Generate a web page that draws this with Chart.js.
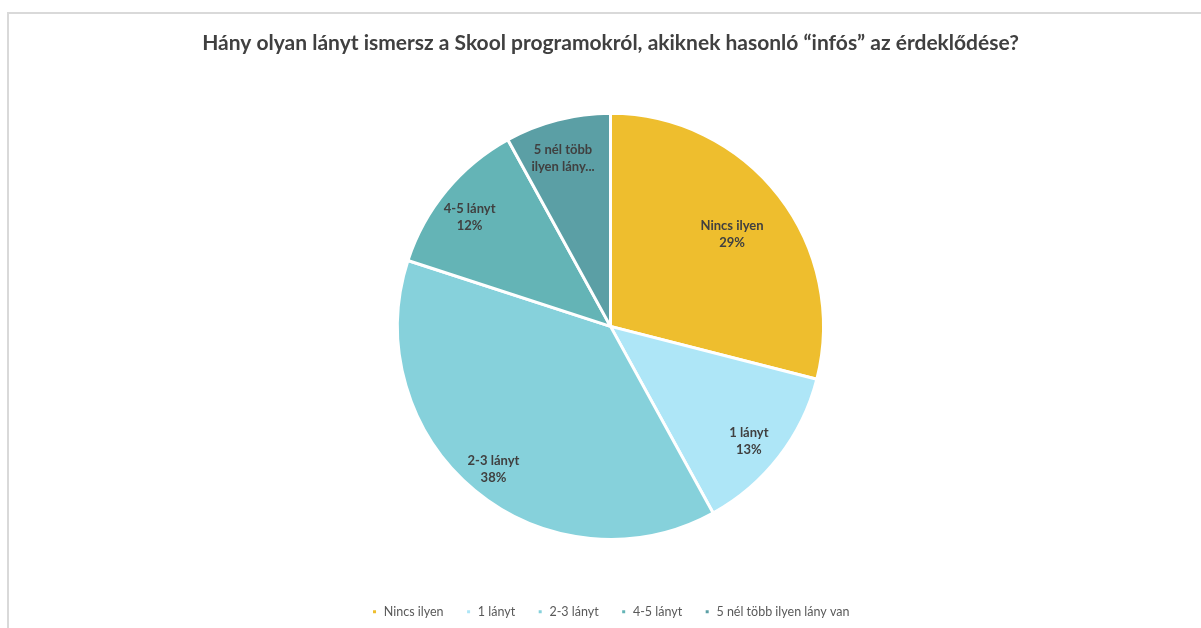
<!DOCTYPE html>
<html>
<head>
<meta charset="utf-8">
<script src="https://cdn.jsdelivr.net/npm/chart.js@4"></script>
<style>
  html, body { margin: 0; padding: 0; background: #fff; overflow: hidden; }
  .frame { position: absolute; left: 7px; top: 12px; width: 1400px; height: 800px; border-left: 2px solid #d9d9d9; border-top: 2px solid #d9d9d9; }
  .wrap { position: absolute; left: 0; top: 0; width: 1201px; height: 628px; }
</style>
</head>
<body>
<div class="frame"></div>
<div class="wrap"><canvas id="pie" width="1201" height="628"></canvas></div>
<script>
    // kategóriák és értékek (%)
    const categories = ['Nincs ilyen', '1 lányt', '2-3 lányt', '4-5 lányt', '5 nél több ilyen lány van'];
    const values = [29, 13, 38, 12, 8];
    const sliceColors = ['#EEBE2E', '#AEE6F7', '#86D1DB', '#64B4B6', '#5B9FA5'];
    // a címkéken megjelenő rövidített nevek
    const labelTexts = [['Nincs ilyen'], ['1 lányt'], ['2-3 lányt'], ['4-5 lányt'], ['5 nél több', 'ilyen lány...']];

    const fontFamily = 'Lato, "Open Sans", sans-serif';

    // adatcímkék a szeletek belsejében
    const sliceLabels = {
        id: 'sliceLabels',
        afterDatasetsDraw(chart) {
            const ctx = chart.ctx;
            const meta = chart.getDatasetMeta(0);
            ctx.save();
            ctx.fillStyle = '#404040';
            ctx.font = 'bold 13px ' + fontFamily;
            ctx.textAlign = 'center';
            ctx.textBaseline = 'middle';
            meta.data.forEach((arc, i) => {
                const p = arc.getProps(['startAngle', 'endAngle', 'outerRadius', 'x', 'y'], true);
                const mid = (p.startAngle + p.endAngle) / 2;
                const r = p.outerRadius * (i === 0 ? 0.74 : 0.84);
                const cx = p.x + Math.cos(mid) * r - 3;
                const cy = p.y + Math.sin(mid) * r + 5;
                let lines = labelTexts[i].slice();
                if (lines.length === 1) lines.push(values[i] + '%');
                const lh = 17;
                lines.forEach((t, k) => {
                    ctx.fillText(t, cx, cy + (k - (lines.length - 1) / 2) * lh);
                });
            });
            ctx.restore();
        }
    };

    const ctx = document.getElementById('pie').getContext('2d');
    const chart = new Chart(ctx, {
        type: 'pie',
        data: {
            labels: categories,
            datasets: [{
                data: values,
                backgroundColor: sliceColors,
                borderColor: '#ffffff',
                borderWidth: 3,
                radius: 213
            }]
        },
        options: {
            responsive: false,
            animation: false,
            layout: { padding: { top: 0, bottom: 0, left: 20, right: 0 } },
            plugins: {
                title: {
                    display: true,
                    text: 'Hány olyan lányt ismersz a Skool programokról, akiknek hasonló “infós” az érdeklődése?',
                    color: '#404040',
                    font: { family: fontFamily, size: 21, weight: 'bold' },
                    padding: { top: 31, bottom: 13 }
                },
                legend: {
                    position: 'bottom',
                    labels: {
                        boxWidth: 6,
                        boxHeight: 6,
                        padding: 22,
                        color: '#595959',
                        font: { family: fontFamily, size: 12.5 }
                    }
                },
                tooltip: { enabled: false }
            }
        },
        plugins: [sliceLabels]
    });
</script>
</body>
</html>
